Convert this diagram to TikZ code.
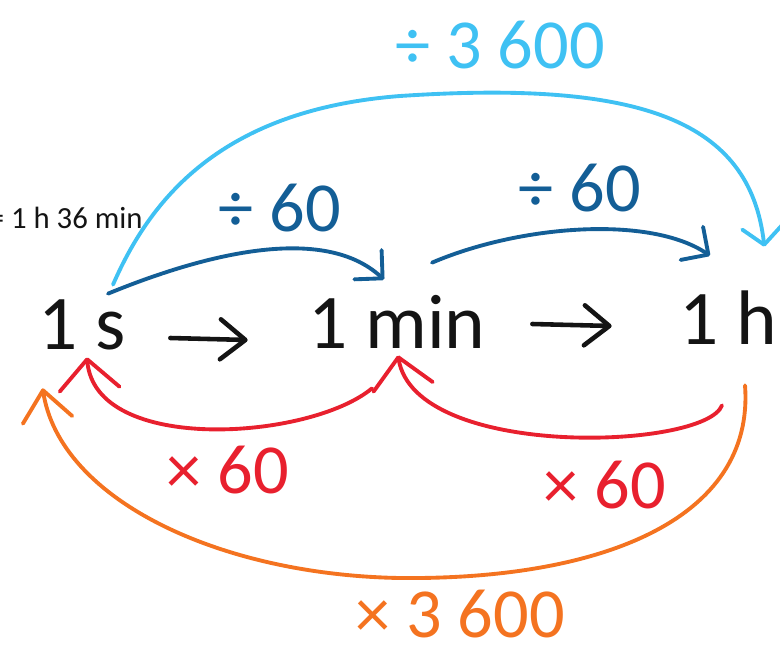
\documentclass[tikz,border=0pt]{standalone}
\usepackage{fontspec}
\setmainfont{Carlito}
\usetikzlibrary{arrows.meta,calc}
\definecolor{Ink}{HTML}{141414}
\definecolor{SkyPen}{HTML}{3FC1F3}
\definecolor{NavyPen}{HTML}{135E96}
\definecolor{RedPen}{HTML}{E8202E}
\definecolor{OrangePen}{HTML}{F47320}
\tikzset{
  unitbox/.style={inner sep=0pt,minimum height=1.4cm,font=\fontsize{44}{44}\selectfont,text=Ink},
  oplabel/.style={inner sep=0pt,font=\fontsize{40}{40}\selectfont},
  stepline/.style={-{Straight Barb[length=5mm,width=8mm,round]},draw=Ink,line width=2.6pt,line cap=round},
  penline/.style={line width=2.2pt,line cap=round},
  divline/.style={penline,draw=NavyPen,-{Straight Barb[length=4mm,width=8mm,round]}},
  divlong/.style={penline,draw=SkyPen,-{Straight Barb[length=3.5mm,width=8mm,round]}},
  mulline/.style={penline,draw=RedPen,-{Straight Barb[length=6mm,width=12mm,round]}},
  mullong/.style={penline,draw=OrangePen,-{Straight Barb[length=6mm,width=10mm,round]}}
}
\begin{document}
\begin{tikzpicture}[x=0.02cm,y=-0.02cm]
  \useasboundingbox (0,0) rectangle (780,649);
  \node[unitbox,minimum width=1.8cm] (sec) at (82,325) {1 s};
  \node[unitbox,minimum width=4cm] (min) at (397,322) {1 min};
  \node[unitbox,minimum width=2.4cm,minimum height=1.8cm] (hour) at (728,318) {1 h};
  \node[anchor=east,inner sep=0pt,font=\fontsize{17.5}{17.5}\selectfont,text=Ink] (note) at (143,218) {= 1 h 36 min};
  \draw[stepline] ($(sec.east)+(43,13)$) -- ($(min.west)+(-49,18)$);
  \draw[stepline] ($(min.east)+(35,2)$) -- ($(hour.west)+(-56,8)$);
  \draw[divline] ($(sec.north)+(26,4)$) .. controls (190,260) and (320,220) .. ($(min.north)+(-13,-7)$);
  \draw[divline] ($(min.north)+(35,-24)$) .. controls (520,225) and (650,215) .. ($(hour.north)+(-18,-17)$);
  \draw[divlong] ($(sec.north)+(31,-5)$) .. controls (150,200) and (220,110) .. (400,96)
    .. controls (640,80) and (750,120) .. ($(hour.north east)+(-24,-26)$);
  \draw[mulline] ($(min.south)+(-25,31)$) .. controls (310,440) and (95,455) .. ($(sec.south)+(5,-3)$);
  \draw[mulline] ($(hour.south)+(-6,42)$) .. controls (705,450) and (415,460) .. ($(min.south)+(1,-2)$);
  \draw[mullong] ($(hour.south)+(17,22)$) .. controls (755,520) and (600,580) .. (400,578)
    .. controls (220,575) and (60,500) .. ($(sec.south west)+(6,28)$);
  \node[oplabel,text=NavyPen] (divA) at (280,208) {÷ 60};
  \node[oplabel,text=NavyPen] (divB) at (580,188) {÷ 60};
  \node[oplabel,text=SkyPen] (divC) at (500,45) {÷ 3 600};
  \node[oplabel,text=RedPen] (mulA) at (228,470) {× 60};
  \node[oplabel,text=RedPen] (mulB) at (605,485) {× 60};
  \node[oplabel,text=OrangePen] (mulC) at (460,614) {× 3 600};
\end{tikzpicture}
\end{document}
